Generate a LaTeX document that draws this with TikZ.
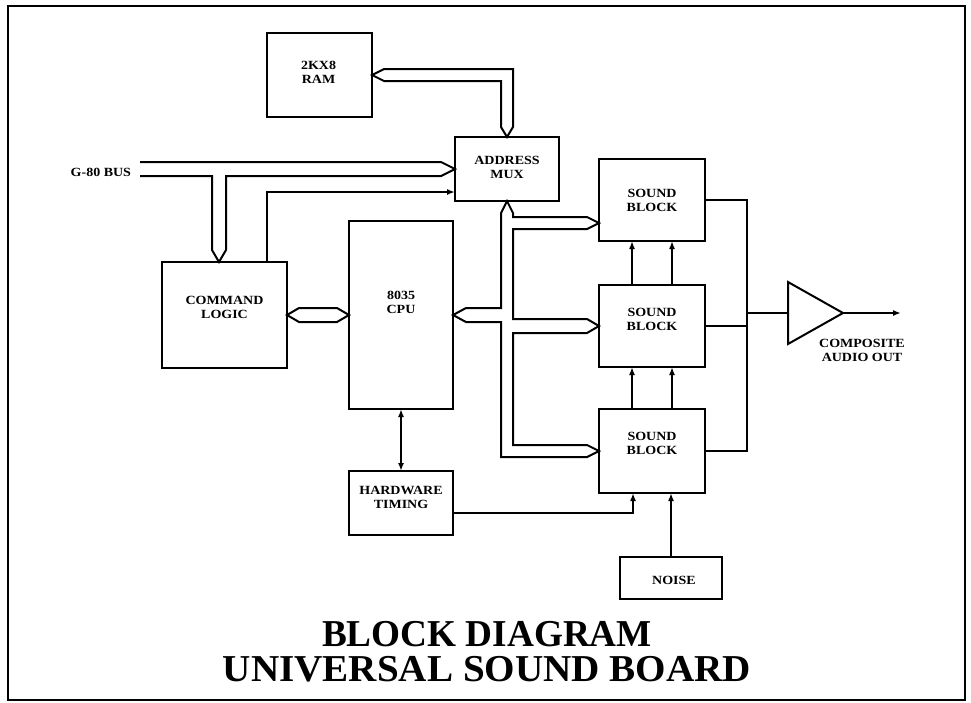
\documentclass[tikz,border=0pt]{standalone}
\usepackage{fontspec}
\setmainfont{Liberation Serif}
\newfontfamily\lblfont{Liberation Serif}[FakeStretch=1.12]
\usetikzlibrary{arrows.meta,calc}
\begin{document}
\begin{tikzpicture}[x=1pt,y=-1pt,line width=2pt,
  box/.style={draw,rectangle,anchor=north west,inner sep=0pt,outer sep=0pt},
  lbl/.style={font=\lblfont\bfseries\fontsize{12.5}{14}\selectfont,align=center,inner sep=0pt},
  tip/.style={-{Latex[length=8pt,width=6pt]}},
  bothtips/.style={{Latex[length=8pt,width=6pt]}-{Latex[length=8pt,width=6pt]}},
  ttl/.style={font=\bfseries\fontsize{38}{35}\selectfont,inner sep=0pt,align=center}]
\useasboundingbox (0,0) rectangle (971,702);
\draw[line width=2pt] (8,6) rectangle (965,700);

% boxes
\node[box,minimum width=105pt,minimum height=84pt] (ram) at (267,33) {};
\node[box,minimum width=104pt,minimum height=64pt] (mux) at (455,137) {};
\node[box,minimum width=125pt,minimum height=106pt] (cmd) at (162,262) {};
\node[box,minimum width=104pt,minimum height=188pt] (cpu) at (349,221) {};
\node[box,minimum width=104pt,minimum height=64pt] (hw) at (349,471) {};
\node[box,minimum width=106pt,minimum height=82pt] (sb1) at (599,159) {};
\node[box,minimum width=106pt,minimum height=82pt] (sb2) at (599,285) {};
\node[box,minimum width=106pt,minimum height=84pt] (sb3) at (599,409) {};
\node[box,minimum width=102pt,minimum height=42pt] (noise) at (620,557) {};

% box texts
\node[lbl] (ramt) at ($(ram)+(-1,-3)$) {2KX8\\RAM};
\node[lbl] (muxt) at ($(mux)+(0,-2)$) {ADDRESS\\MUX};
\node[lbl] (cmdt) at ($(cmd)+(0,-8)$) {COMMAND\\LOGIC};
\node[lbl] (cput) at ($(cpu)+(0,-13)$) {8035\\CPU};
\node[lbl] (hwt) at ($(hw)+(0,-6)$) {HARDWARE\\TIMING};
\node[lbl] (sb1t) at (sb1) {SOUND\\BLOCK};
\node[lbl] (sb2t) at ($(sb2)+(0,-7)$) {SOUND\\BLOCK};
\node[lbl] (sb3t) at ($(sb3)+(0,-8)$) {SOUND\\BLOCK};
\node[lbl] (noiset) at ($(noise)+(3,2)$) {NOISE};
\node[lbl,anchor=east] (g80) at (132,172) {G-80 BUS};

% RAM <-> MUX bus
\draw (ram.east) -- ++(12,-6) -| ($(mux.north)+(6,-10)$) -- (mux.north)
  -- ($(mux.north)+(-6,-10)$) |- ($(ram.east)+(12,6)$) -- cycle;

% G-80 bus
\coordinate (g1) at (140,162);
\coordinate (g2) at (140,176);
\draw (g1) -- ($(mux.west)+(-14,-7)$) -- (mux.west) -- ($(mux.west)+(-14,7)$)
  -| ($(cmd.north west)+(64,-12)$) -- ($(cmd.north west)+(57,0)$)
  -- ($(cmd.north west)+(50,-12)$) |- (g2);

% command logic -> mux
\draw[tip] ($(cmd.north west)+(105,0)$) |- ($(mux.north west)+(0,55)$);

% command logic <-> CPU
\draw (cmd.east) -- ++(12,-7) -- ($(cpu.west)+(-12,-7)$) -- (cpu.west)
  -- ++(-12,7) -- ($(cmd.east)+(12,7)$) -- cycle;

% CPU data bus
\draw (cpu.east) -- ++(13,-7) -| ($(mux.south)+(-6,12)$) -- (mux.south)
  -- ($(mux.south)+(6,12)$) |- ($(sb1.south west)+(-12,-24)$)
  -- ($(sb1.south west)+(0,-18)$) -- ($(sb1.south west)+(-12,-12)$)
  -| ($(sb2.west)+(-86,-7)$) -- ($(sb2.west)+(-12,-7)$) -- (sb2.west)
  -- ($(sb2.west)+(-12,7)$) -| ($(sb3.west)+(-86,-6)$)
  -- ($(sb3.west)+(-12,-6)$) -- (sb3.west) -- ($(sb3.west)+(-12,6)$)
  -| ($(cpu.east)+(48,7)$) -- ($(cpu.east)+(13,7)$) -- cycle;

% CPU <-> hardware timing
\draw[bothtips] (cpu.south) -- (hw.north);

% sound block chain
\foreach \dx in {33,73} {
  \draw[tip] ($(sb2.north west)+(\dx,0)$) -- ($(sb1.south west)+(\dx,0)$);
  \draw[tip] ($(sb3.north west)+(\dx,0)$) -- ($(sb2.south west)+(\dx,0)$);
}
\draw[tip] ($(hw.east)+(0,10)$) -| ($(sb3.south west)+(34,0)$);
\draw[tip] (noise.north) -- (noise.north |- sb3.south);

% outputs and amplifier
\draw (sb1.east) -| ($(sb3.east)+(42,0)$) -- (sb3.east);
\draw (sb2.east) -- ++(42,0);
\coordinate (ampin) at (788,313);
\coordinate (ampout) at (843,313);
\draw (788,282) -- (ampout) -- (788,344) -- cycle;
\draw ($(sb2.east)+(42,-13)$) -- (ampin);
\coordinate (audioend) at (901,313);
\draw[tip] (ampout) -- (audioend);
\node[lbl] (audio) at (862,350.5) {COMPOSITE\\AUDIO OUT};

% title
\node[ttl] (title) at (487,652) {\scalebox{0.98}[1]{BLOCK DIAGRAM}\\\scalebox{1.03}[1]{UNIVERSAL SOUND BOARD}};
\end{tikzpicture}
\end{document}
